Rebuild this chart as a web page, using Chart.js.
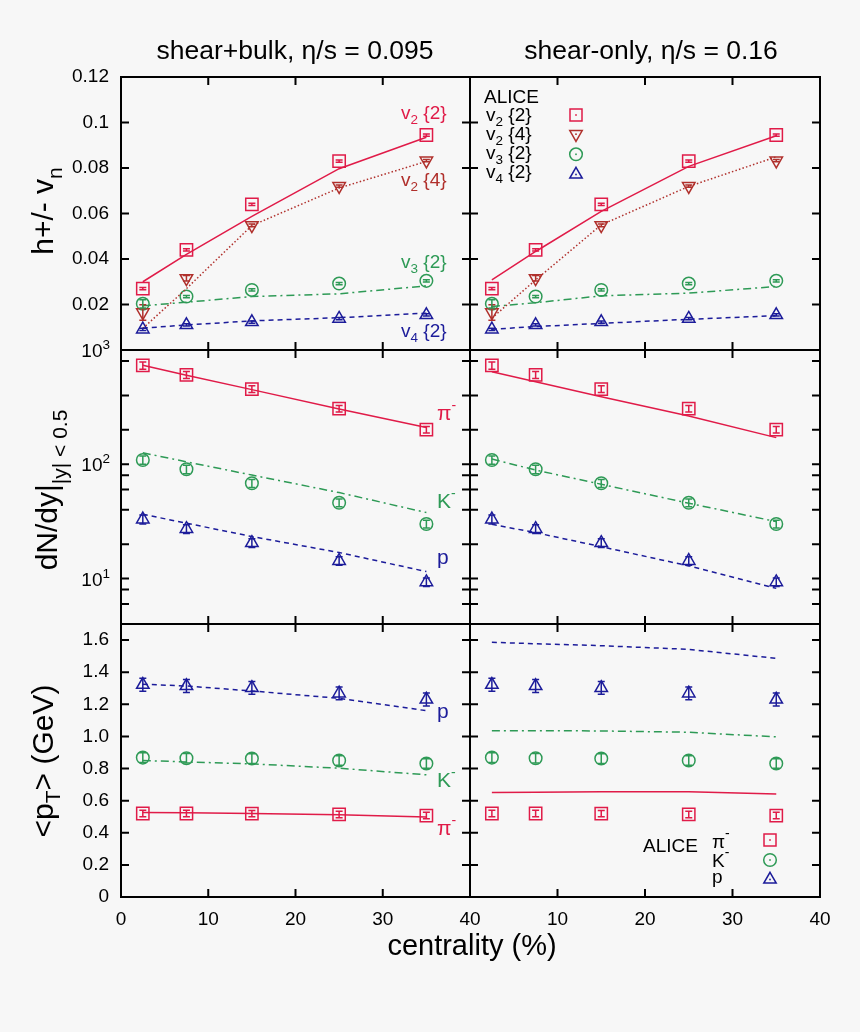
<!DOCTYPE html>
<html lang="en">
  <head>
    <meta charset="utf-8" />
    <title>Flow, yields and mean pT vs centrality</title>
    <script src="https://cdn.jsdelivr.net/npm/chart.js@4.4.1/dist/chart.umd.min.js"></script>
    <style>
      body { margin: 0; background: #f7f7f7; }
      #wrap { position: relative; width: 860px; height: 1032px; background: #f7f7f7; }
      #wrap canvas { position: absolute; left: 0; top: 0; }
    </style>
  </head>
  <body>
    <div id="wrap"></div>
    <script>
      // ---- data ----
      const centrality = [2.5, 7.5, 15, 25, 35];

      const xTicks = [0, 10, 20, 30, 40];
      const vnTicks = [0, 0.02, 0.04, 0.06, 0.08, 0.1, 0.12];
      const dndyTicks = [6, 8, 10, 20, 40, 60, 80, 100, 200, 400, 800, 1000];
      const dndyExponents = { 10: '1', 100: '2', 1000: '3' };
      const ptTicks = [0, 0.2, 0.4, 0.6, 0.8, 1.0, 1.2, 1.4, 1.6];

      // ALICE points
      const aliceV22 = [0.027, 0.044, 0.064, 0.083, 0.0945];
      const aliceV22Err = [0.0005, 0.0005, 0.0005, 0.0005, 0.0005];
      const aliceV24 = [0.0165, 0.0315, 0.0548, 0.072, 0.0832];
      const aliceV24Err = [0.0034, 0.0012, 0.0006, 0.0005, 0.0005];
      const aliceV32 = [0.0203, 0.0235, 0.0264, 0.0292, 0.0304];
      const aliceV32Err = [0.0018, 0.0005, 0.0005, 0.0005, 0.0005];
      const aliceV42 = [0.0091, 0.011, 0.0123, 0.0138, 0.0154];
      const aliceV42Err = [0.0005, 0.0005, 0.0005, 0.0005, 0.0005];

      const aliceDndyPi = [733, 606, 455, 307, 201];
      const aliceDndyPiErr = [54, 42, 31, 20, 13];
      const aliceDndyK = [109, 90.5, 68.2, 46, 30];
      const aliceDndyKErr = [9, 7.7, 5.5, 3.6, 2.3];
      const aliceDndyP = [33, 27.2, 20.5, 14.3, 9.3];
      const aliceDndyPErr = [3, 2.4, 1.8, 1.2, 0.8];

      const alicePtPi = [0.52, 0.52, 0.519, 0.514, 0.507];
      const alicePtPiErr = [0.02, 0.02, 0.02, 0.02, 0.02];
      const alicePtK = [0.868, 0.864, 0.862, 0.85, 0.831];
      const alicePtKErr = [0.03, 0.03, 0.03, 0.03, 0.03];
      const alicePtP = [1.322, 1.314, 1.302, 1.268, 1.23];
      const alicePtPErr = [0.04, 0.04, 0.04, 0.04, 0.04];

      // shear+bulk, eta/s = 0.095
      const sbV22 = [0.030, 0.042, 0.0587, 0.0797, 0.0935];
      const sbV24 = [0.0095, 0.027, 0.0547, 0.0712, 0.0829];
      const sbV32 = [0.0194, 0.021, 0.0235, 0.0247, 0.0282];
      const sbV42 = [0.0096, 0.011, 0.0128, 0.0142, 0.0162];
      const sbDndyPi = [735, 600, 450, 305, 210];
      const sbDndyK = [126, 105, 80.5, 56.5, 37.8];
      const sbDndyP = [36.5, 30.5, 23.3, 16.9, 11.5];
      const sbPtPi = [0.526, 0.524, 0.52, 0.512, 0.4975];
      const sbPtK = [0.85, 0.841, 0.829, 0.802, 0.761];
      const sbPtP = [1.325, 1.314, 1.283, 1.237, 1.16];

      // shear-only, eta/s = 0.16
      const soV22 = [0.0308, 0.0433, 0.0609, 0.0807, 0.0942];
      const soV24 = [0.014, 0.0308, 0.055, 0.0719, 0.0849];
      const soV32 = [0.0191, 0.0208, 0.0238, 0.025, 0.0279];
      const soV42 = [0.0091, 0.0103, 0.0117, 0.0135, 0.0151];
      const soDndyPi = [646, 528, 390, 265, 171];
      const soDndyK = [111, 89, 66.8, 45.6, 31.5];
      const soDndyP = [29.8, 25.2, 19, 12.9, 8.2];
      const soPtPi = [0.65, 0.652, 0.655, 0.655, 0.642];
      const soPtK = [1.036, 1.036, 1.034, 1.026, 0.997];
      const soPtP = [1.586, 1.577, 1.565, 1.542, 1.486];

      // ---- style ----
      const FONT = '"Liberation Sans", Arial, Helvetica, sans-serif';
      const RED = '#e01b48', BROWN = '#b0302c', GREEN = '#2e9a56', BLUE = '#1c1c9a';
      const COLS = [[121, 470], [470, 820]];
      const ROWS = [[77, 350], [350, 624], [624, 897]];
      Chart.defaults.font.family = FONT;
      Chart.defaults.color = '#000';

      function xy(vals) {
        return centrality.map((x, i) => ({ x: x, y: vals[i] }));
      }
      function curve(vals, color, dash) {
        return { data: xy(vals), borderColor: color, borderWidth: 1.5, borderDash: dash,
                 pointRadius: 0, fill: false, tension: 0 };
      }
      function marks(vals, errs, color, style, r, rot) {
        return { data: xy(vals), showLine: false, borderColor: color, backgroundColor: 'rgba(0,0,0,0)',
                 pointStyle: style, pointRadius: r, pointRotation: rot || 0, pointBorderWidth: 1.5,
                 errors: errs };
      }

      const DOT = [1.5, 2.2], DASHDOT = [8, 4, 2, 4], DASH = [5, 4];

      function vnSets(m) {
        return [
          curve(m[0], RED, []), curve(m[1], BROWN, DOT), curve(m[2], GREEN, DASHDOT), curve(m[3], BLUE, DASH),
          marks(aliceV22, aliceV22Err, RED, 'rect', 8.7),
          marks(aliceV24, aliceV24Err, BROWN, 'triangle', 7.2, 180),
          marks(aliceV32, aliceV32Err, GREEN, 'circle', 6.3),
          marks(aliceV42, aliceV42Err, BLUE, 'triangle', 7.2)
        ];
      }
      function dndySets(m) {
        return [
          curve(m[0], RED, []), curve(m[1], GREEN, DASHDOT), curve(m[2], BLUE, DASH),
          marks(aliceDndyPi, aliceDndyPiErr, RED, 'rect', 8.7),
          marks(aliceDndyK, aliceDndyKErr, GREEN, 'circle', 6.3),
          marks(aliceDndyP, aliceDndyPErr, BLUE, 'triangle', 7.2)
        ];
      }
      function ptSets(m) {
        return [
          curve(m[0], RED, []), curve(m[1], GREEN, DASHDOT), curve(m[2], BLUE, DASH),
          marks(alicePtPi, alicePtPiErr, RED, 'rect', 8.7),
          marks(alicePtK, alicePtKErr, GREEN, 'circle', 6.3),
          marks(alicePtP, alicePtPErr, BLUE, 'triangle', 7.2)
        ];
      }

      // rich text: parts = [text, size, dy]
      function rich(ctx, parts, x, y, align, color) {
        ctx.fillStyle = color;
        ctx.textBaseline = 'alphabetic';
        ctx.textAlign = 'left';
        let w = 0;
        parts.forEach(p => { ctx.font = p[1] + 'px ' + FONT; w += ctx.measureText(p[0]).width; });
        let cx = align === 'center' ? x - w / 2 : align === 'right' ? x - w : x;
        parts.forEach(p => {
          ctx.font = p[1] + 'px ' + FONT;
          ctx.fillText(p[0], cx, y + (p[2] || 0));
          cx += ctx.measureText(p[0]).width;
        });
      }

      function marker(ctx, style, x, y, color) {
        ctx.save();
        ctx.strokeStyle = color;
        ctx.fillStyle = color;
        ctx.lineWidth = 1.5;
        ctx.beginPath();
        const s = 6.2;
        if (style === 'rect') ctx.rect(x - 6, y - 6, 12, 12);
        else if (style === 'circle') ctx.arc(x, y, 6.3, 0, 2 * Math.PI);
        else if (style === 'tri') { ctx.moveTo(x, y - 7.2); ctx.lineTo(x + s, y + 3.6); ctx.lineTo(x - s, y + 3.6); ctx.closePath(); }
        else { ctx.moveTo(x, y + 7.2); ctx.lineTo(x + s, y - 3.6); ctx.lineTo(x - s, y - 3.6); ctx.closePath(); }
        ctx.stroke();
        ctx.fillRect(x - 0.8, y - 0.8, 1.6, 1.6);
        ctx.restore();
      }

      function deco(texts, keys, powerLabels) {
        return {
          id: 'deco',
          afterDatasetsDraw(chart) {
            const ctx = chart.ctx, ys = chart.scales.y;
            ctx.save();
            ctx.lineWidth = 1.5;
            chart.data.datasets.forEach((ds, di) => {
              if (!ds.errors) return;
              ctx.strokeStyle = ds.borderColor;
              chart.getDatasetMeta(di).data.forEach((pt, i) => {
                const v = ds.data[i].y, e = ds.errors[i];
                const y1 = ys.getPixelForValue(v - e), y2 = ys.getPixelForValue(v + e);
                ctx.beginPath();
                ctx.moveTo(pt.x, y1); ctx.lineTo(pt.x, y2);
                ctx.moveTo(pt.x - 3.5, y1); ctx.lineTo(pt.x + 3.5, y1);
                ctx.moveTo(pt.x - 3.5, y2); ctx.lineTo(pt.x + 3.5, y2);
                ctx.stroke();
              });
            });
            ctx.restore();
          },
          afterDraw(chart) {
            const ctx = chart.ctx, a = chart.chartArea;
            ctx.save();
            ctx.strokeStyle = '#000';
            ctx.lineWidth = 2;
            ctx.strokeRect(a.left, a.top, a.right - a.left, a.bottom - a.top);
            ctx.beginPath();
            const xs = chart.scales.x, ys = chart.scales.y;
            xs.ticks.forEach(t => {
              const px = xs.getPixelForValue(t.value);
              ctx.moveTo(px, a.bottom); ctx.lineTo(px, a.bottom - 8);
              ctx.moveTo(px, a.top); ctx.lineTo(px, a.top + 8);
            });
            ys.ticks.forEach(t => {
              const py = ys.getPixelForValue(t.value);
              ctx.moveTo(a.left, py); ctx.lineTo(a.left + 8, py);
              ctx.moveTo(a.right, py); ctx.lineTo(a.right - 8, py);
            });
            ctx.stroke();
            // decade labels of the log axis: 10 with a raised exponent
            if (powerLabels) {
              ys.ticks.forEach(t => {
                const ex = dndyExponents[t.value];
                if (!ex) return;
                const py = ys.getPixelForValue(t.value);
                rich(ctx, [['10', 19], [ex, 13.5, -8]], a.left - 11, py + 7, 'right', '#000');
              });
            }
            texts.forEach(t => {
              if (t.rot) {
                ctx.save();
                ctx.translate(t.x, t.y);
                ctx.rotate(-Math.PI / 2);
                rich(ctx, t.p, 0, 0, 'center', t.c);
                ctx.restore();
              } else {
                rich(ctx, t.p, t.x, t.y, t.align || 'left', t.c);
              }
            });
            keys.forEach(k => marker(ctx, k[0], k[1], k[2], k[3]));
            ctx.restore();
          }
        };
      }

      function scaleX(labels, hideZero) {
        return {
          type: 'linear', min: 0, max: 40,
          afterBuildTicks: s => { s.ticks = xTicks.map(v => ({ value: v })); },
          afterFit: s => { s.height = labels ? 45 : 0; },
          grid: { display: false, drawTicks: false },
          border: { display: false },
          ticks: { display: labels, autoSkip: false, maxRotation: 0, padding: 11,
                   font: { size: 19 }, color: '#000',
                   callback: v => (hideZero && v === 0) ? '' : String(v) }
        };
      }

      function scaleY(kind, labels) {
        const base = {
          afterFit: s => { s.width = labels ? 60 : 0; },
          grid: { display: false, drawTicks: false },
          border: { display: false },
          ticks: { display: labels, autoSkip: false, padding: 12, font: { size: 19 }, color: '#000' }
        };
        if (kind === 'vn') {
          return Object.assign(base, { type: 'linear', min: 0, max: 0.12,
            afterBuildTicks: s => { s.ticks = vnTicks.map(v => ({ value: v })); },
            ticks: Object.assign(base.ticks, { callback: v => v === 0 ? '' : String(+v.toFixed(2)) }) });
        }
        if (kind === 'dndy') {
          return Object.assign(base, { type: 'logarithmic', min: 4, max: 1000,
            afterBuildTicks: s => { s.ticks = dndyTicks.map(v => ({ value: v })); },
            ticks: Object.assign(base.ticks, { display: false }) });
        }
        return Object.assign(base, { type: 'linear', min: 0, max: 1.7,
          afterBuildTicks: s => { s.ticks = ptTicks.map(v => ({ value: v })); },
          ticks: Object.assign(base.ticks, { callback: v => v === 0 ? '0' : v.toFixed(1) }) });
      }

      const sub = (n) => [['v', 19], [n, 13.5, 5]];
      const vLabel = (n, m) => sub(n).concat([[' {' + m + '}', 19]]);
      const minus = (ch, size) => [[ch, size], ['-', 14, -10]];

      const pageTexts = [
        { p: [['shear+bulk, η/s = 0.095', 26.5]], x: 295, y: 59, c: '#000', align: 'center' },
        { p: [['shear-only, η/s = 0.16', 26.5]], x: 651, y: 59, c: '#000', align: 'center' },
        { p: [['h+/- v', 30], ['n', 21, 9]], x: 53, y: 211, c: '#000', rot: true },
        { p: [['dN/dy|', 30], ['|y| < 0.5', 21, 10]], x: 57, y: 490, c: '#000', rot: true },
        { p: [['<p', 30], ['T', 21, 7], ['> (GeV)', 30]], x: 53, y: 761, c: '#000', rot: true },
        { p: [['centrality (%)', 29]], x: 472, y: 955, c: '#000', align: 'center' }
      ];

      const panels = [
        { col: 0, row: 0, kind: 'vn', sets: vnSets([sbV22, sbV24, sbV32, sbV42]),
          texts: pageTexts.concat([
            { p: vLabel('2', '2'), x: 401, y: 119, c: RED },
            { p: vLabel('2', '4'), x: 401, y: 186, c: BROWN },
            { p: vLabel('3', '2'), x: 401, y: 268, c: GREEN },
            { p: vLabel('4', '2'), x: 401, y: 337, c: BLUE }
          ]), keys: [] },
        { col: 1, row: 0, kind: 'vn', sets: vnSets([soV22, soV24, soV32, soV42]),
          texts: [
            { p: [['ALICE', 19]], x: 484, y: 103, c: '#000' },
            { p: vLabel('2', '2'), x: 486, y: 120.5, c: '#000' },
            { p: vLabel('2', '4'), x: 486, y: 139.7, c: '#000' },
            { p: vLabel('3', '2'), x: 486, y: 158.9, c: '#000' },
            { p: vLabel('4', '2'), x: 486, y: 178.1, c: '#000' }
          ],
          keys: [['rect', 576, 115, RED], ['itri', 576, 134.2, BROWN], ['circle', 576, 154.3, GREEN], ['tri', 576, 174.5, BLUE]] },
        { col: 0, row: 1, kind: 'dndy', sets: dndySets([sbDndyPi, sbDndyK, sbDndyP]),
          texts: [
            { p: minus('π', 21), x: 437, y: 420, c: RED },
            { p: minus('K', 21), x: 437, y: 508, c: GREEN },
            { p: [['p', 21]], x: 437, y: 564, c: BLUE }
          ], keys: [] },
        { col: 1, row: 1, kind: 'dndy', sets: dndySets([soDndyPi, soDndyK, soDndyP]), texts: [], keys: [] },
        { col: 0, row: 2, kind: 'pt', sets: ptSets([sbPtPi, sbPtK, sbPtP]),
          texts: [
            { p: [['p', 21]], x: 437, y: 718, c: BLUE },
            { p: minus('K', 21), x: 437, y: 787, c: GREEN },
            { p: minus('π', 21), x: 437, y: 835, c: RED }
          ], keys: [] },
        { col: 1, row: 2, kind: 'pt', sets: ptSets([soPtPi, soPtK, soPtP]),
          texts: [
            { p: [['ALICE', 19]], x: 643, y: 852, c: '#000' },
            { p: minus('π', 19), x: 712, y: 848, c: '#000' },
            { p: minus('K', 19), x: 712, y: 867, c: '#000' },
            { p: [['p', 19]], x: 712, y: 883, c: '#000' }
          ],
          keys: [['rect', 770, 840, RED], ['circle', 770, 860, GREEN], ['tri', 770, 879.5, BLUE]] }
      ];

      const wrap = document.getElementById('wrap');
      panels.forEach(pn => {
        const canvas = document.createElement('canvas');
        canvas.width = 860;
        canvas.height = 1032;
        canvas.style.width = '860px';
        canvas.style.height = '1032px';
        wrap.appendChild(canvas);
        const [L, R] = COLS[pn.col], [T, B] = ROWS[pn.row];
        const yLab = pn.col === 0, xLab = pn.row === 2;
        new Chart(canvas, {
          type: 'line',
          data: { datasets: pn.sets },
          options: {
            responsive: false,
            animation: false,
            devicePixelRatio: 1,
            layout: { padding: { left: L - (yLab ? 60 : 0), right: 860 - R, top: T, bottom: 1032 - B - (xLab ? 45 : 0) } },
            plugins: { legend: { display: false }, tooltip: { enabled: false } },
            scales: { x: scaleX(xLab, pn.col === 1), y: scaleY(pn.kind, yLab) }
          },
          plugins: [deco(pn.texts, pn.keys, yLab && pn.kind === 'dndy')]
        });
      });
    </script>
  </body>
</html>
